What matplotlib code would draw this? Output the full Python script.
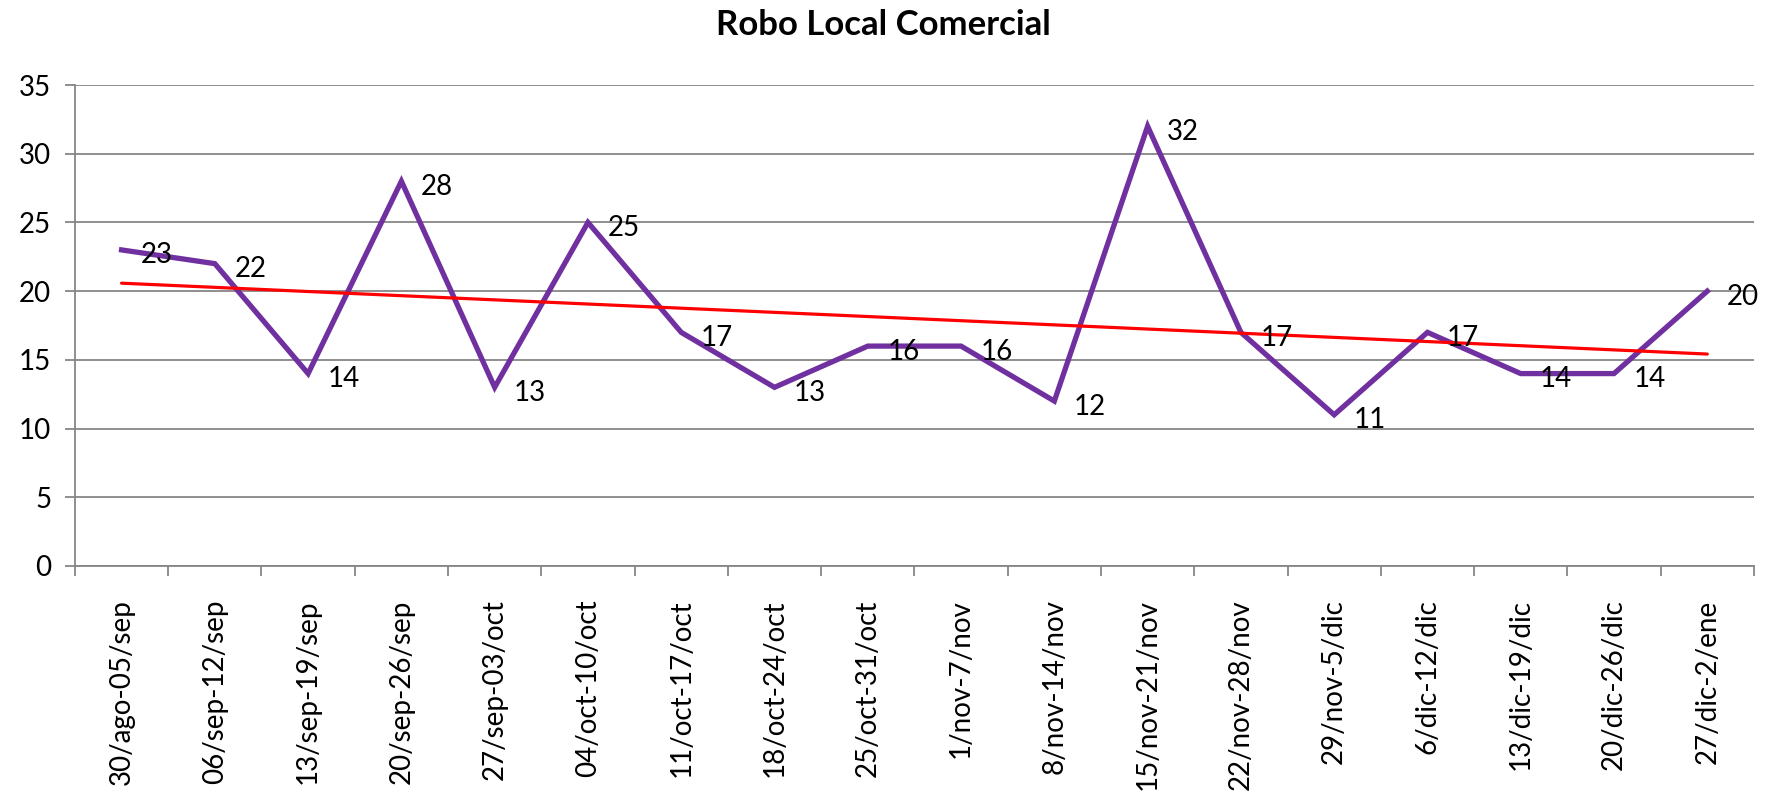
import numpy as np
import matplotlib
matplotlib.use('Agg')
import matplotlib.pyplot as plt
from matplotlib.ticker import FixedLocator

plt.rcParams['font.family'] = ['Lato', 'DejaVu Sans']

#%% data
weeks = ['30/ago-05/sep', '06/sep-12/sep', '13/sep-19/sep', '20/sep-26/sep',
         '27/sep-03/oct', '04/oct-10/oct', '11/oct-17/oct', '18/oct-24/oct',
         '25/oct-31/oct', '1/nov-7/nov', '8/nov-14/nov', '15/nov-21/nov',
         '22/nov-28/nov', '29/nov-5/dic', '6/dic-12/dic', '13/dic-19/dic',
         '20/dic-26/dic', '27/dic-2/ene']
robos = [23, 22, 14, 28, 13, 25, 17, 13, 16, 16, 12, 32, 17, 11, 17, 14, 14, 20]

x = np.arange(len(weeks))
# linear trend line, like the excel one
slope, icpt = np.polyfit(x, robos, 1)
trend = slope * x + icpt

#%% plot
fig = plt.figure(figsize=(17.67, 7.93), dpi=100)
ax = fig.add_axes([0.0424, 0.2863, 0.9502, 0.6065])

grey = '#868686'
ax.set_ylim(0, 35)
ax.set_xlim(-0.5, len(weeks) - 0.5)
ax.set_yticks(np.arange(0, 36, 5))
ax.grid(axis='y', color=grey, linewidth=1.3)
ax.set_axisbelow(True)

ax.plot(x, robos, color='#7030A0', linewidth=3.8, solid_joinstyle='miter', zorder=3)
ax.plot(x, trend, color='#FF0000', linewidth=2.3, solid_capstyle='round', zorder=4)

for xi, v in zip(x, robos):
    ax.annotate(str(v), (xi, v), xytext=(14, -4), textcoords='offset points',
                ha='left', va='center', fontsize=20, zorder=5)

ax.set_xticks(x)
ax.set_xticklabels(weeks, rotation=90, fontsize=20)
ax.xaxis.set_minor_locator(FixedLocator(np.arange(-0.5, len(weeks), 1)))
ax.tick_params(axis='x', which='major', length=0, pad=24)
ax.tick_params(axis='x', which='minor', length=7, color=grey, width=1.3)
ax.tick_params(axis='y', length=7, color=grey, width=1.3, labelsize=20, pad=10)

for s in ['top', 'right']:
    ax.spines[s].set_visible(False)
for s in ['left', 'bottom']:
    ax.spines[s].set_color(grey)
    ax.spines[s].set_linewidth(1.3)

fig.text(0.5, 0.968, 'Robo Local Comercial', ha='center', va='center',
         fontsize=25, fontweight='bold')

fig.savefig('out.png', dpi=100)
